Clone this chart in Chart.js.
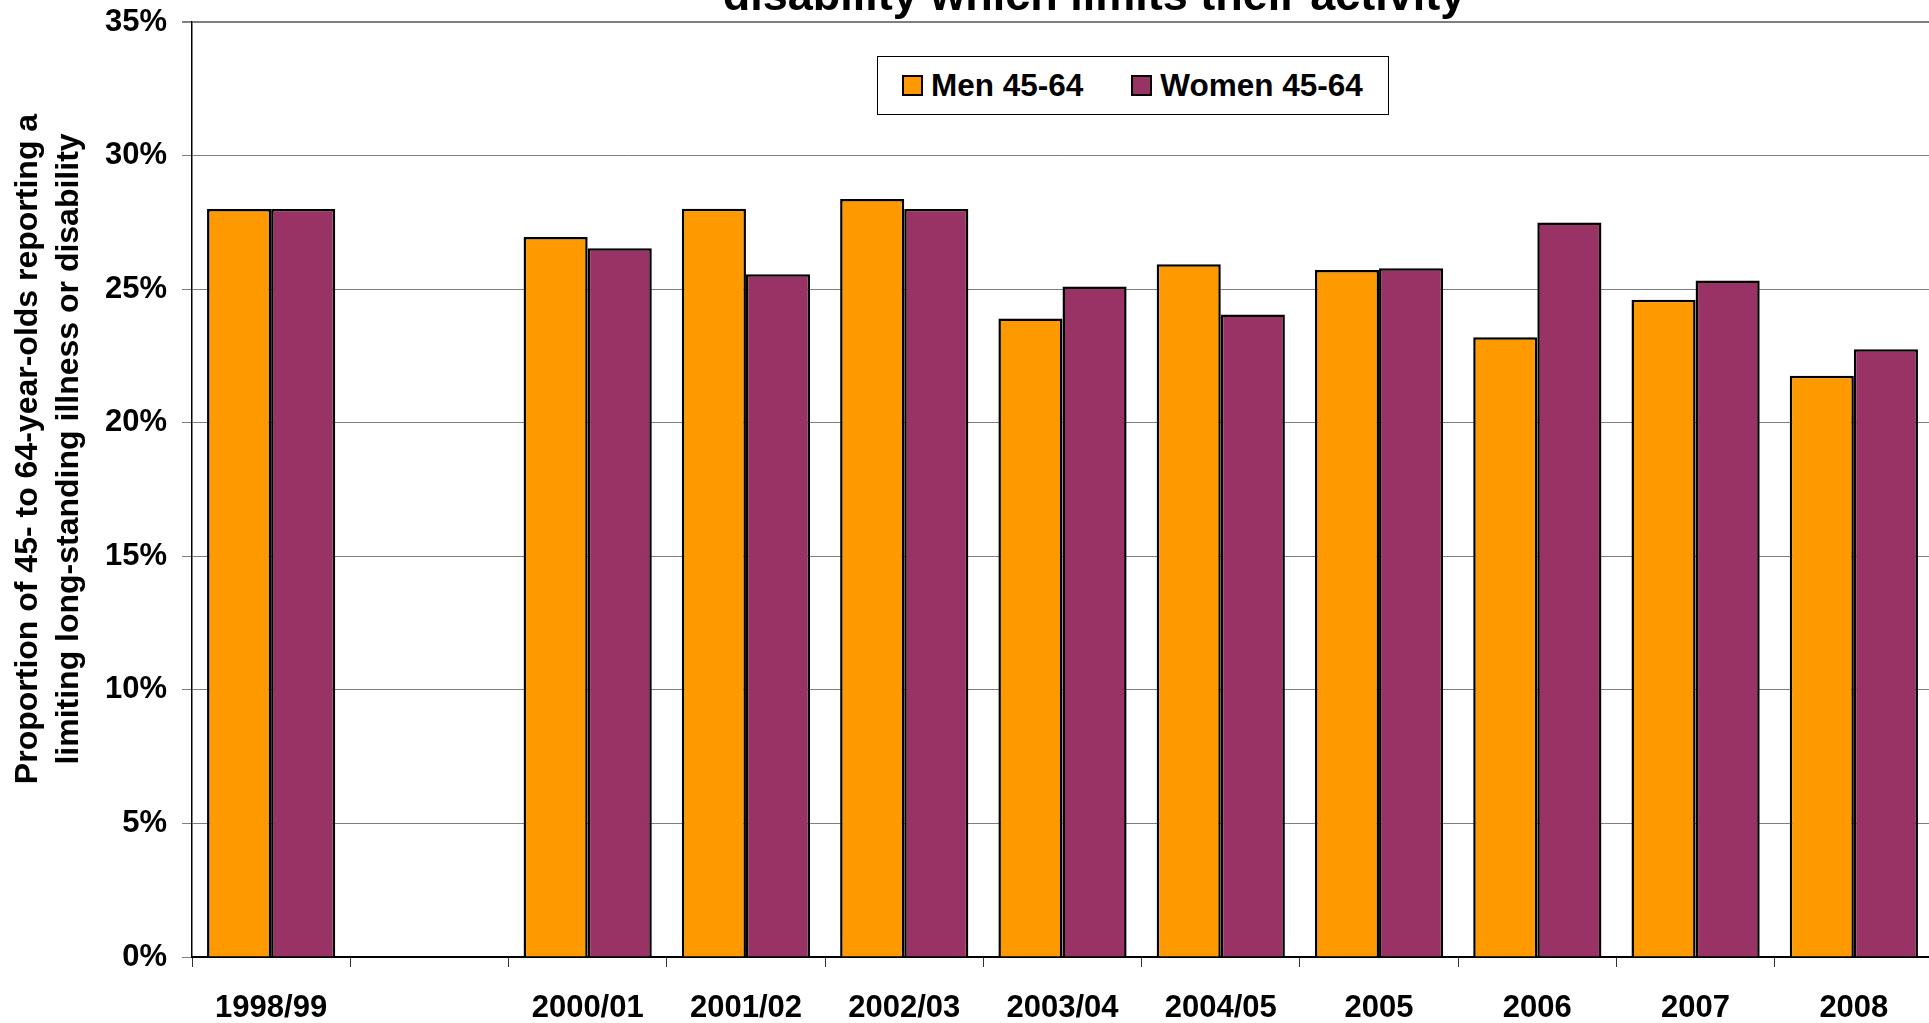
<!DOCTYPE html>
<html>
<head>
<meta charset="utf-8">
<script src="https://cdn.jsdelivr.net/npm/chart.js@4.4.1/dist/chart.umd.min.js"></script>
<style>
  html, body { margin:0; padding:0; background:#fff; overflow:hidden; width:1929px; height:1023px; }
  #wrap { position:absolute; left:0; top:0; width:1940px; height:1023px; }
  #title { position:absolute; left:1094px; top:-28px; transform:translateX(-50%);
    font:bold 45px "Liberation Sans", Arial, sans-serif; line-height:45px; white-space:nowrap; color:#000; }
  #ytitle { position:absolute; left:47.4px; top:448.5px; width:800px; height:82px;
    transform:translate(-50%,-50%) rotate(-90deg); text-align:center; white-space:nowrap;
    font:bold 32px "Liberation Sans", Arial, sans-serif; line-height:41px; color:#000; }
  #legend { position:absolute; left:877px; top:56px; width:512px; height:59px; box-sizing:border-box;
    border:1px solid #000; background:#fff; display:flex; align-items:center; padding-left:24px;
    font:bold 31.5px "Liberation Sans", Arial, sans-serif; color:#000; white-space:nowrap; }
  #legend .sw { display:inline-block; width:21px; height:21px; box-sizing:border-box; border:2px solid #000; margin-right:8px; }
  #legend .item { display:flex; align-items:center; }
  #legend .item + .item { margin-left:48px; }
</style>
</head>
<body>
<div id="wrap"><canvas id="c"></canvas></div>
<div id="title">disability which limits their activity</div>
<div id="ytitle">Proportion of 45- to 64-year-olds reporting a<br>limiting long-standing illness or disability</div>
<div id="legend"></div>
<script>
const categories = ['1998/99', '', '2000/01', '2001/02', '2002/03', '2003/04', '2004/05', '2005', '2006', '2007', '2008'];
const seriesNames = ['Men 45-64', 'Women 45-64'];
const menValues   = [28.0, null, 26.95, 28.01, 28.37, 23.9, 25.93, 25.72, 23.2, 24.6, 21.76];
const womenValues = [28.0, null, 26.53, 25.56, 28.0, 25.1, 24.05, 25.78, 27.49, 25.32, 22.75];
const seriesColors = ['#FF9900', '#993366'];
const yTicks = [0, 5, 10, 15, 20, 25, 30, 35];

Chart.defaults.font.family = '"Liberation Sans", Arial, sans-serif';
Chart.defaults.color = '#000';

const chart = new Chart(document.getElementById('c'), {
  type: 'bar',
  data: {
    labels: categories,
    datasets: [
      { label: seriesNames[0], data: menValues, backgroundColor: seriesColors[0], borderColor: '#000', borderWidth: 2.5 },
      { label: seriesNames[1], data: womenValues, backgroundColor: seriesColors[1], borderColor: '#000', borderWidth: 2.5 }
    ]
  },
  options: {
    responsive: true,
    maintainAspectRatio: false,
    devicePixelRatio: 1,
    animation: false,
    layout: { padding: { top: 22, right: 7, left: 0, bottom: 0 } },
    datasets: { bar: { categoryPercentage: 0.81, barPercentage: 1.0 } },
    plugins: { legend: { display: false }, tooltip: { enabled: false }, title: { display: false } },
    scales: {
      x: {
        offset: true,
        grid: { display: true, drawOnChartArea: false, drawTicks: true, tickLength: 10, color: '#333', tickColor: '#333', lineWidth: 1 },
        border: { display: true, color: '#000', width: 2 },
        ticks: { font: { size: 31, weight: 'bold' }, color: '#000', padding: 23, autoSkip: false, maxRotation: 0, minRotation: 0 },
        afterFit(scale) { scale.height = 66; scale.paddingLeft = 0; scale.paddingRight = 0; }
      },
      y: {
        min: 0, max: 35,
        afterBuildTicks(scale) { scale.ticks = yTicks.map(v => ({ value: v })); },
        grid: {
          color: '#7f7f7f',
          lineWidth: (ctx) => (ctx.tick && ctx.tick.value === 35 ? 2 : 1),
          tickLength: 10, tickColor: '#7f7f7f', drawTicks: true
        },
        border: { display: true, color: '#000', width: 1.5 },
        ticks: { font: { size: 31, weight: 'bold' }, color: '#000', padding: 15, callback: (v) => v + '%' },
        afterFit(scale) { scale.width = 192; scale.paddingTop = 0; scale.paddingBottom = 0; }
      }
    }
  }
});

const legend = document.getElementById('legend');
chart.data.datasets.forEach((ds) => {
  const item = document.createElement('div');
  item.className = 'item';
  const sw = document.createElement('span');
  sw.className = 'sw';
  sw.style.background = ds.backgroundColor;
  const tx = document.createElement('span');
  tx.textContent = ds.label;
  item.appendChild(sw); item.appendChild(tx);
  legend.appendChild(item);
});
</script>
</body>
</html>
